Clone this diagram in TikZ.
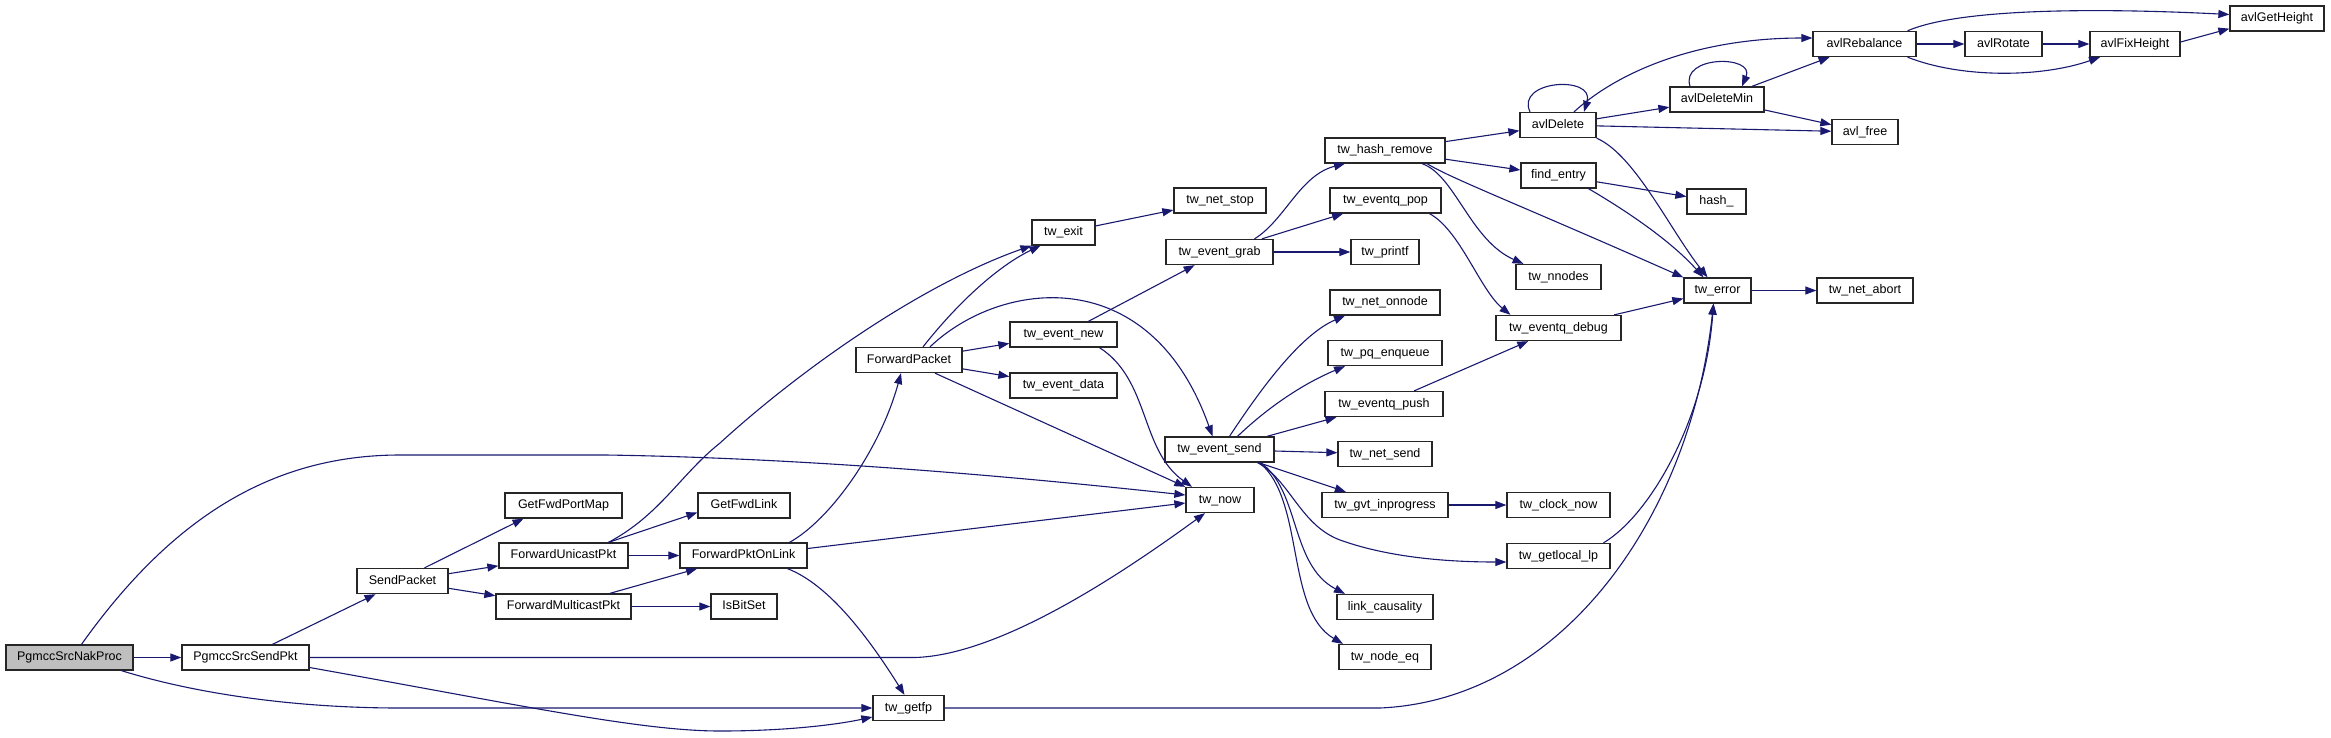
\documentclass[tikz,border=0pt]{standalone}
\usepackage{fontspec}
\newfontfamily\graphfont{Liberation Sans}
\usetikzlibrary{arrows.meta}
\definecolor{EdgeBlue}{HTML}{191970}
\definecolor{RootGray}{HTML}{BFBFBF}
\tikzset{
  fn/.style={draw=black!85, line width=1.3pt, fill=white, rectangle,
    inner sep=0pt, minimum height=25pt, text height=9pt, text depth=2.5pt,
    font=\graphfont\fontsize{12.5}{15}\selectfont},
  call/.style={draw=EdgeBlue, line width=1.1pt, -{Triangle[length=11pt,width=8pt]}}
}

\begin{document}
\begin{tikzpicture}[x=1pt, y=-1pt]
  \path[use as bounding box, fill=white] (0,0) rectangle (2331,737);

  % root of the graph
  \node[fn, fill=RootGray, minimum width=127] (NakProc) at (69.5,657.5) {PgmccSrcNakProc};

  \foreach \id/\cx/\cy/\w/\txt in {%
    SrcSendPkt/245.5/657.5/127/PgmccSrcSendPkt,
    SendPacket/402.5/581/91/SendPacket,
    FwdPortMap/563.5/505.5/117/GetFwdPortMap,
    FwdUnicast/563.5/555.5/129/ForwardUnicastPkt,
    FwdMulticast/563.5/606.5/135/ForwardMulticastPkt,
    FwdLink/744/505.5/92/GetFwdLink,
    PktOnLink/743.5/555.5/127/ForwardPktOnLink,
    IsBitSet/744/606.5/66/IsBitSet,
    FwdPacket/909/360/106/ForwardPacket,
    GetFp/908.5/708/71/tw\_getfp,
    Exit/1063.5/232.5/63/tw\_exit,
    EvNew/1063.5/334.5/107/tw\_event\_new,
    EvData/1063.5/385.5/107/tw\_event\_data,
    NetStop/1220/200.5/92/tw\_net\_stop,
    EvGrab/1219.5/252/107/tw\_event\_grab,
    EvSend/1219.5/449.5/109/tw\_event\_send,
    Now/1220/500/68/tw\_now,
    HashRemove/1385/150.5/120/tw\_hash\_remove,
    QPop/1385.5/200.5/111/tw\_eventq\_pop,
    Printf/1385/252/68/tw\_printf,
    NetOnnode/1385/302.5/110/tw\_net\_onnode,
    PqEnqueue/1385/353/114/tw\_pq\_enqueue,
    QPush/1384/404/118/tw\_eventq\_push,
    NetSend/1385/454/94/tw\_net\_send,
    GvtProg/1385/505/126/tw\_gvt\_inprogress,
    Causality/1385/607/96/link\_causality,
    NodeEq/1385/657/92/tw\_node\_eq,
    AvlDelete/1558/125/76/avlDelete,
    FindEntry/1558.5/175.5/75/find\_entry,
    Nnodes/1558.5/277/85/tw\_nnodes,
    QDebug/1558.5/328/125/tw\_eventq\_debug,
    ClockNow/1558.5/505/103/tw\_clock\_now,
    GetLocalLp/1558.5/556/103/tw\_getlocal\_lp,
    DeleteMin/1717/99.5/94/avlDeleteMin,
    Hash/1716.5/201.5/59/hash\_,
    Error/1717.5/290.5/67/tw\_error,
    Rebalance/1864.5/44/103/avlRebalance,
    AvlFree/1865/132/66/avl\_free,
    NetAbort/1865/290.5/96/tw\_net\_abort,
    Rotate/2003.5/44/77/avlRotate,
    FixHeight/2135/44/90/avlFixHeight,
    GetHeight/2277/18.5/94/avlGetHeight}{%
    \node[fn, minimum width=\w] (\id) at (\cx,\cy) {\txt};
  }

  % calls of PgmccSrcNakProc and PgmccSrcSendPkt
  \draw[call] (NakProc) -- (SrcSendPkt);
  \draw[call] ([xshift=12]NakProc.north) .. controls (170,520) and (270,455) .. (400,455)
    -- (606,455) .. controls (800,458) and (1000,475) .. ([yshift=5]Now.west);
  \draw[call] ([xshift=52]NakProc.south) .. controls (200,695) and (300,708) .. (400,708) -- (GetFp.west);
  \draw[call] (SrcSendPkt) -- (SendPacket);
  \draw[call] (SrcSendPkt.east) -- (915,657.5) .. controls (1000,655) and (1120,575) .. ([xshift=-15]Now.south);
  \draw[call] ([yshift=-10]SrcSendPkt.east) .. controls (520,705) and (640,731) .. (720,731)
    .. controls (790,731) and (840,724) .. ([yshift=-9]GetFp.west);

  % SendPacket and the forwarding functions
  \draw[call] ([xshift=22]SendPacket.north) -- ([xshift=-40]FwdPortMap.south);
  \draw[call] (SendPacket) -- (FwdUnicast);
  \draw[call] (SendPacket) -- (FwdMulticast);
  \draw[call] ([xshift=45]FwdUnicast.north) -- ([yshift=-7]FwdLink.west);
  \draw[call] (FwdUnicast) -- (PktOnLink);
  \draw[call] ([xshift=45]FwdUnicast.north) .. controls (660,515) and (680,475) .. (720,443)
    .. controls (800,370) and (920,285) .. (Exit.south west);
  \draw[call] (FwdMulticast) -- (PktOnLink);
  \draw[call] (FwdMulticast) -- (IsBitSet);
  \draw[call] ([xshift=46]PktOnLink.north) .. controls (830,520) and (880,450) .. ([xshift=-8]FwdPacket.south);
  \draw[call] ([yshift=7]PktOnLink.east) -- ([yshift=-3]Now.west);
  \draw[call] ([xshift=44]PktOnLink.south) .. controls (830,585) and (870,640) .. ([xshift=-4]GetFp.north);

  % ForwardPacket
  \draw[call] ([xshift=14]FwdPacket.north) .. controls (960,300) and (1000,265) .. ([xshift=-23]Exit.south);
  \draw[call] (FwdPacket) -- (EvNew);
  \draw[call] (FwdPacket) -- (EvData);
  \draw[call] ([xshift=26]FwdPacket.south) -- (Now.north west);
  \draw[call] ([xshift=21]FwdPacket.north) .. controls (1000,280) and (1150,260) .. ([xshift=-7]EvSend.north);
  \draw[call] (Exit) -- (NetStop);
  \draw[call] (EvNew) -- (EvGrab);
  \draw[call] ([xshift=36]EvNew.south) .. controls (1150,380) and (1140,450) .. ([xshift=-28]Now.north);

  % tw_event_grab
  \draw[call] ([xshift=35]EvGrab.north) .. controls (1285,220) and (1300,175) .. ([xshift=-40]HashRemove.south);
  \draw[call] (EvGrab) -- (QPop);
  \draw[call] (EvGrab) -- (Printf);

  % tw_event_send
  \draw[call] ([xshift=10]EvSend.north) .. controls (1260,390) and (1300,335) .. ([xshift=-40]NetOnnode.south);
  \draw[call] ([xshift=18]EvSend.north) .. controls (1265,410) and (1300,385) .. ([xshift=-40]PqEnqueue.south);
  \draw[call] (EvSend) -- (QPush);
  \draw[call] (EvSend) -- (NetSend);
  \draw[call] (EvSend) -- (GvtProg);
  \draw[call] ([xshift=38]EvSend.south) .. controls (1290,480) and (1300,525) .. (1340,540)
    .. controls (1390,558) and (1450,562) .. ([yshift=-6]GetLocalLp.west);
  \draw[call] ([xshift=41]EvSend.south) .. controls (1300,490) and (1290,565) .. ([xshift=-40]Causality.north);
  \draw[call] ([xshift=40]EvSend.south) .. controls (1305,500) and (1285,610) .. ([xshift=-42]NodeEq.north);

  % tw_hash_remove and the queue
  \draw[call] (HashRemove) -- (AvlDelete);
  \draw[call] (HashRemove) -- (FindEntry);
  \draw[call] ([xshift=37]HashRemove.south) .. controls (1455,175) and (1470,240) .. ([xshift=-35]Nnodes.north);
  \draw[call] ([xshift=42]HashRemove.south) .. controls (1450,178) and (1520,205) .. (Error.north west);
  \draw[call] ([xshift=44]QPop.south) .. controls (1460,230) and (1480,290) .. ([xshift=-48]QDebug.north);
  \draw[call] (QPush) -- (QDebug);
  \draw[call] (QDebug) -- (Error);
  \draw[call] (GvtProg) -- (ClockNow);
  \draw[call] ([xshift=45]GetLocalLp.north) .. controls (1650,515) and (1705,420) .. ([xshift=-4]Error.south);
  \draw[call] (GetFp.east) -- (1380,708) .. controls (1560,700) and (1690,520) .. ([xshift=-4]Error.south);

  % avl tree
  \draw[call] ([xshift=-28]AvlDelete.north) .. controls (1515,80) and (1595,75) .. ([xshift=26]AvlDelete.north);
  \draw[call] (AvlDelete) -- (DeleteMin);
  \draw[call] (AvlDelete) -- (AvlFree);
  \draw[call] ([xshift=16]AvlDelete.north) .. controls (1620,70) and (1700,38) .. ([yshift=6]Rebalance.west);
  \draw[call] (AvlDelete.south east) .. controls (1635,155) and (1670,230) .. ([xshift=-10]Error.north);
  \draw[call] (FindEntry) -- (Hash);
  \draw[call] ([xshift=30]FindEntry.south) .. controls (1625,210) and (1670,240) .. ([xshift=-14]Error.north);
  \draw[call] ([xshift=-27]DeleteMin.north) .. controls (1680,55) and (1755,55) .. ([xshift=25]DeleteMin.north);
  \draw[call] (DeleteMin) -- (Rebalance);
  \draw[call] (DeleteMin) -- (AvlFree);
  \draw[call] (Rebalance) -- (Rotate);
  \draw[call] ([xshift=43]Rebalance.south) .. controls (1960,78) and (2040,78) .. ([xshift=-35]FixHeight.south);
  \draw[call] ([xshift=43]Rebalance.north) .. controls (1960,8) and (2100,8) .. ([yshift=4]GetHeight.west);
  \draw[call] (Rotate) -- (FixHeight);
  \draw[call] ([yshift=2]FixHeight.east) -- ([yshift=3]GetHeight.south west);
  \draw[call] (Error) -- (NetAbort);
\end{tikzpicture}
\end{document}
